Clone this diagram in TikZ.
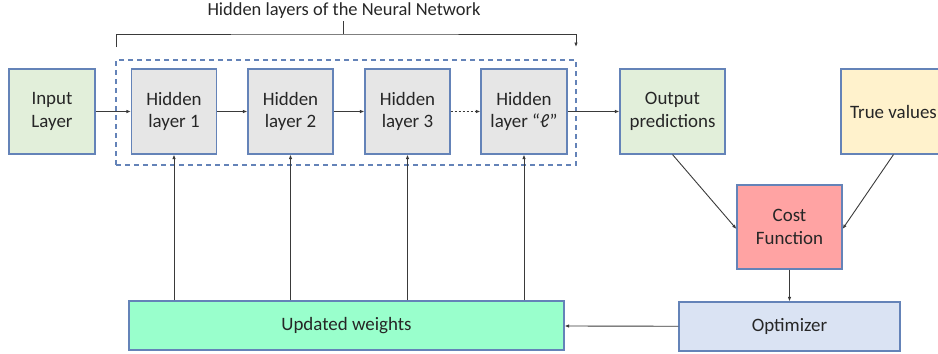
\documentclass[tikz,border=0pt]{standalone}
\usepackage{fontspec}
\setmainfont{Carlito}
\usetikzlibrary{arrows.meta}
\definecolor{edge}{HTML}{6483B8}
\definecolor{wire}{HTML}{3A3A3A}
\definecolor{inpfill}{HTML}{E2EFDA}
\definecolor{hidfill}{HTML}{E6E6E6}
\definecolor{truefill}{HTML}{FFF2CC}
\definecolor{costfill}{HTML}{FFA3A3}
\definecolor{updfill}{HTML}{99FFCC}
\definecolor{optfill}{HTML}{DAE3F3}
\tikzset{
  box/.style={draw=edge, line width=1.1bp, align=center, inner sep=0pt,
    font=\fontsize{19}{22.5}\selectfont, text=black!85},
  layerbox/.style={box, minimum width=85bp, minimum height=85bp},
  link/.style={draw=wire, line width=0.9bp, -{Latex[length=4.5bp,width=3.5bp]}},
}
\begin{document}
\begin{tikzpicture}[x=1bp,y=-1bp]
  \useasboundingbox (0,0) rectangle (938,353);
  \clip (0,0) rectangle (938,353);

  % dashed group around the hidden layers
  \node[draw=edge, line width=1.1bp, dash pattern=on 5bp off 4bp,
        minimum width=460bp, minimum height=105bp, inner sep=0pt]
        (grp) at (346,112.5) {};

  % layers
  \node[layerbox, fill=inpfill, minimum width=86bp] (inp) at (52,111.5) {Input\\Layer};
  \node[layerbox, fill=hidfill] (h1) at (174,111.5) {Hidden\\layer 1};
  \node[layerbox, fill=hidfill] (h2) at (290.5,111.5) {Hidden\\layer 2};
  \node[layerbox, fill=hidfill] (h3) at (407.5,111.5) {Hidden\\layer 3};
  \node[layerbox, fill=hidfill, minimum width=86bp] (hl) at (524,111.5) {Hidden\\layer “ℓ”};
  \node[layerbox, fill=inpfill, minimum width=105bp] (out) at (672.5,111.5) {Output\\predictions};
  \node[layerbox, fill=truefill, minimum width=105bp] (tru) at (893.5,111.5) {True values};

  % training loop
  \node[box, fill=costfill, minimum width=105bp, minimum height=84bp] (cost) at (789.5,227) {Cost\\Function};
  \node[box, fill=optfill, minimum width=221bp, minimum height=49bp] (opt) at (789.5,326.5) {Optimizer};
  \node[box, fill=updfill, minimum width=435bp, minimum height=49bp] (upd) at (346.5,325.5) {Updated weights};

  % forward pass
  \draw[link] (inp) -- (h1);
  \draw[link] (h1) -- (h2);
  \draw[link] (h2) -- (h3);
  \draw[link, dash pattern=on 2.5bp off 1.5bp] (h3) -- (hl);
  \draw[link] (hl) -- (out);

  % loss and optimisation
  \draw[link] (out.south) -- ([yshift=-2bp]cost.west);
  \draw[link] (tru.south) -- ([yshift=-2bp]cost.east);
  \draw[link] (cost) -- (opt);
  \draw[link] (opt) -- (upd);

  % weight updates
  \foreach \h in {h1,h2,h3,hl}
    \draw[link] (\h |- upd.north) -- (\h.south);

  % bracket with caption
  \coordinate (bl) at (116,47);
  \coordinate (bm) at (343,34);
  \coordinate (bt) at (343,21);
  \coordinate (br) at (576,47);
  \draw[draw=wire, line width=0.9bp] (bm) -- (bt);
  \draw[link] (bl) |- (bm) -| (br);
  \node[font=\fontsize{18.5}{22}\selectfont, text=black!85, inner sep=0pt] (cap) at (344,11) {Hidden layers of the Neural Network};
\end{tikzpicture}
\end{document}
